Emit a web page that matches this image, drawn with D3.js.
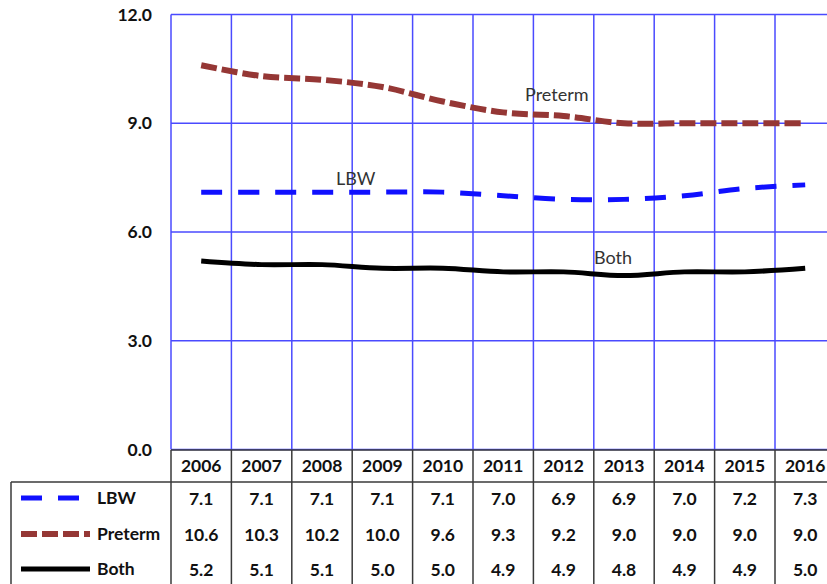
<!DOCTYPE html>
<html><head><meta charset="utf-8">
<script src="https://cdn.jsdelivr.net/npm/d3@7"></script>
<style>body{margin:0;background:#fff;} svg{display:block;}</style>
</head><body>
<script>
const years = ["2006","2007","2008","2009","2010","2011","2012","2013","2014","2015","2016"];
const lbw = [7.1,7.1,7.1,7.1,7.1,7.0,6.9,6.9,7.0,7.2,7.3];
const preterm = [10.6,10.3,10.2,10.0,9.6,9.3,9.2,9.0,9.0,9.0,9.0];
const both = [5.2,5.1,5.1,5.0,5.0,4.9,4.9,4.8,4.9,4.9,5.0];
const yTicks = [0,3,6,9,12];
const seriesNames = ["LBW","Preterm","Both"];

const W=827,H=584;
const FONT = "Lato, 'Open Sans', sans-serif";
const svg = d3.select("body").append("svg").attr("width",W).attr("height",H);

const colW = 60.4;
const x = d3.scaleBand().domain(years).range([171, 171+colW*years.length]).padding(0);
const y = d3.scaleLinear().domain([0,12]).range([449.5,14.5]);
const cx = d => x(d)+x.bandwidth()/2;

const series = [
  {name:seriesNames[0], values:lbw, color:"#1010ff", width:5, dash:"21,16", legendEnd:80},
  {name:seriesNames[1], values:preterm, color:"#953735", width:6, dash:"16,5", legendEnd:90},
  {name:seriesNames[2], values:both, color:"#000000", width:5, dash:null, legendEnd:90}
];

// grid
const grid = svg.append("g");
yTicks.forEach(t=>{
  grid.append("line").attr("x1",171).attr("x2",W).attr("y1",y(t)).attr("y2",y(t))
    .attr("stroke","#4a4aff").attr("stroke-width",1.5);
});
years.forEach(yr=>{
  grid.append("line").attr("x1",x(yr)).attr("x2",x(yr)).attr("y1",y(12)).attr("y2",y(0))
    .attr("stroke","#4a4aff").attr("stroke-width",1.5);
});

// y tick labels
svg.append("g").selectAll("text").data(yTicks).join("text")
  .attr("x",152).attr("y",d=>y(d)).attr("dy","0.35em").attr("text-anchor","end")
  .attr("font-family",FONT).attr("font-weight","bold").attr("font-size",17.5).attr("fill","#111")
  .text(d=>d.toFixed(1));

// lines
const line = d3.line().x((d,i)=>cx(years[i])).y(d=>y(d)).curve(d3.curveCatmullRom.alpha(0.5));
series.forEach(s=>{
  svg.append("path").attr("d",line(s.values)).attr("fill","none")
    .attr("stroke",s.color).attr("stroke-width",s.width)
    .attr("stroke-dasharray",s.dash)
    .attr("stroke-linecap","butt");
});

// series labels
const labs = [
  {t:seriesNames[1], x:525, y:95},
  {t:seriesNames[0], x:336, y:179},
  {t:seriesNames[2], x:594, y:258}
];
svg.append("g").selectAll("text").data(labs).join("text")
  .attr("x",d=>d.x).attr("y",d=>d.y).attr("dy","0.35em")
  .attr("font-family",FONT).attr("font-size",18).attr("fill","#333")
  .text(d=>d.t);

// table
const tbl = svg.append("g");
const tc = "#3a3a3a";
tbl.append("line").attr("x1",171).attr("x2",W).attr("y1",450).attr("y2",450).attr("stroke",tc).attr("stroke-width",1.5);
tbl.append("line").attr("x1",11).attr("x2",W).attr("y1",482).attr("y2",482).attr("stroke",tc).attr("stroke-width",1.5);
tbl.append("line").attr("x1",11).attr("x2",11).attr("y1",482).attr("y2",H).attr("stroke",tc).attr("stroke-width",1.5);
years.forEach(yr=>{
  tbl.append("line").attr("x1",x(yr)).attr("x2",x(yr)).attr("y1",450).attr("y2",H).attr("stroke",tc).attr("stroke-width",1.5);
});
tbl.selectAll("text.yr").data(years).join("text").attr("class","yr")
  .attr("x",d=>cx(d)).attr("y",466).attr("dy","0.35em").attr("text-anchor","middle")
  .attr("font-family",FONT).attr("font-weight","bold").attr("font-size",17.5).attr("fill","#111")
  .text(d=>d);

const rowY = [498,534,569];
series.forEach((s,si)=>{
  const ry = rowY[si];
  tbl.append("line").attr("x1",21).attr("x2",s.legendEnd).attr("y1",ry).attr("y2",ry)
    .attr("stroke",s.color).attr("stroke-width",s.width).attr("stroke-dasharray",s.dash);
  tbl.append("text").attr("x",97).attr("y",ry).attr("dy","0.35em")
    .attr("font-family",FONT).attr("font-weight","bold").attr("font-size",17.5).attr("fill","#111")
    .text(s.name);
  tbl.selectAll("text.v"+si).data(s.values).join("text").attr("class","v"+si)
    .attr("x",(d,i)=>cx(years[i])).attr("y",ry+1).attr("dy","0.35em").attr("text-anchor","middle")
    .attr("font-family",FONT).attr("font-weight","bold").attr("font-size",17.5).attr("fill","#111")
    .text(d=>d.toFixed(1));
});
</script>
</body></html>
